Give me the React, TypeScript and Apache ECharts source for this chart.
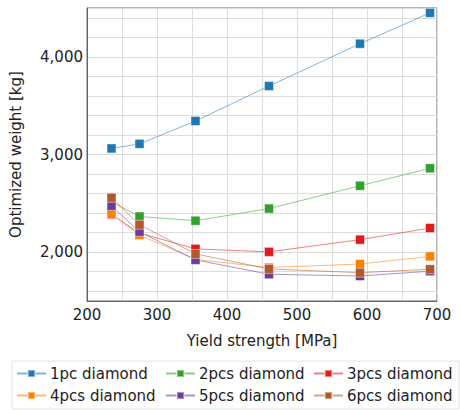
import React, { useEffect, useRef } from "react";
import * as echarts from "echarts";

const yieldStrength = [235, 275, 355, 460, 590, 690];
const seriesNames = ["1pc diamond", "2pcs diamond", "3pcs diamond", "4pcs diamond", "5pcs diamond", "6pcs diamond"];
const w1 = [3062, 3109, 3343, 3701, 4134, 4450];
const w2 = [2515, 2365, 2322, 2446, 2680, 2859];
const w3 = [2385, 2195, 2034, 2003, 2128, 2247];
const w4 = [2392, 2175, 1926, 1842, 1879, 1957];
const w5 = [2474, 2209, 1921, 1774, 1756, 1805];
const w6 = [2557, 2281, 1982, 1828, 1790, 1825];
const colors = ["#1f78b4", "#33a02c", "#e31a1c", "#ff7f00", "#6a3d9a", "#b15928"];
const legendPos = [
  [16, 366], [165, 366], [313, 366],
  [16, 388], [165, 388], [313, 388],
];

const FONT = "DejaVu Sans";

export default function App() {
  const ref = useRef<HTMLDivElement>(null);
  useEffect(() => {
    if (!ref.current) return;
    const chart = echarts.init(ref.current, null, { renderer: "svg" });
    const all = [w1, w2, w3, w4, w5, w6];
    const series = all.map((vals, i) => ({
      name: seriesNames[i],
      type: "line",
      data: yieldStrength.map((x, j) => [x, vals[j]]),
      symbol: "rect",
      symbolSize: 9,
      itemStyle: { color: colors[i], borderColor: "rgba(255,255,255,0.45)", borderWidth: 1 },
      lineStyle: { color: colors[i], width: 1, opacity: 0.55 },
      emphasis: { disabled: true },
    }));
    const legends = seriesNames.map((n, i) => ({
      data: [n],
      left: legendPos[i][0],
      top: legendPos[i][1],
      padding: 0,
      itemWidth: 29,
      itemHeight: 9,
      itemGap: 0,
      selectedMode: false,
      textStyle: { fontFamily: FONT, fontSize: 15, color: "#222", padding: [0, 0, 0, -1] },
    }));
    chart.setOption({
      animation: false,
      backgroundColor: "#fff",
      color: colors,
      grid: { left: 83, right: 23, top: 8, bottom: 109, show: true, borderColor: "#666", borderWidth: 1 },
      xAxis: {
        type: "value",
        min: 200,
        max: 700,
        interval: 50,
        name: "Yield strength [MPa]",
        nameLocation: "middle",
        nameGap: 32,
        nameTextStyle: { fontFamily: FONT, fontSize: 15, color: "#222" },
        axisLine: { lineStyle: { color: "#666" } },
        axisTick: { show: false },
        axisLabel: {
          fontFamily: FONT,
          fontSize: 15,
          color: "#222",
          margin: 6,
          formatter: (v: number) => (v % 100 === 0 ? String(v) : ""),
        },
        splitLine: { show: true, lineStyle: { color: "#dcdcdc", width: 1 } },
      },
      yAxis: {
        type: "value",
        min: 1500,
        max: 4500,
        splitNumber: 15,
        minInterval: 200,
        maxInterval: 200,
        name: "Optimized weight [kg]",
        nameLocation: "middle",
        nameGap: 64,
        nameTextStyle: { fontFamily: FONT, fontSize: 15, color: "#222" },
        axisLine: { show: true, lineStyle: { color: "#666" } },
        axisTick: { show: false },
        axisLabel: {
          fontFamily: FONT,
          fontSize: 15,
          color: "#222",
          margin: 4,
          formatter: (v: number) => (v % 1000 === 0 ? v.toLocaleString("en-US") : ""),
        },
        splitLine: { show: true, lineStyle: { color: "#dcdcdc", width: 1 } },
      },
      legend: legends,
      graphic: [
        {
          type: "rect",
          shape: { x: 12, y: 361, width: 447, height: 48 },
          style: { fill: "none", stroke: "#e4e4e4", lineWidth: 1 },
          silent: true,
        },
      ],
      series,
    });
    return () => chart.dispose();
  }, []);
  return <div ref={ref} style={{ width: 460, height: 410, position: "absolute", left: 0, top: 0 }} />;
}
